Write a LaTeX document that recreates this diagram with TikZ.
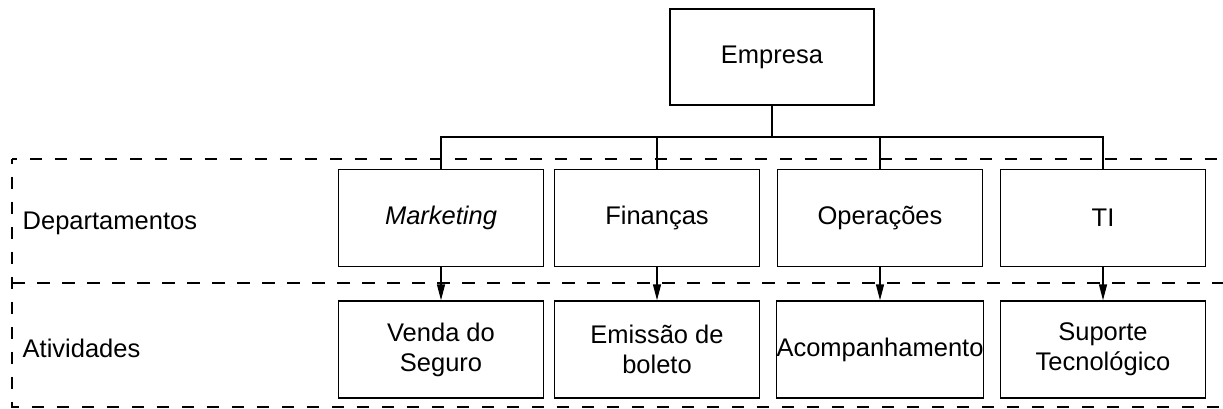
\documentclass[tikz,border=0pt]{standalone}
\usepackage{fontspec}
\setmainfont{Liberation Sans}
\usetikzlibrary{arrows.meta}

\begin{document}
\begin{tikzpicture}[x=1pt, y=-1pt, line width=1.4pt,
    box/.style={draw, minimum width=205pt, minimum height=97pt, inner sep=0pt,
      align=center, font=\fontsize{25.5}{30}\selectfont},
    rotulo/.style={anchor=west, inner sep=0pt, font=\fontsize{25.5}{30}\selectfont},
    faixa/.style={draw, dash pattern=on 12.5pt off 12.5pt},
    seta/.style={-{Triangle[length=16pt,width=8pt]}}]
  \useasboundingbox (0,0) rectangle (1223,409);
  % dashed bands
  \draw[faixa, dash phase=7.5pt] (12,159) -- (1240,159);
  \draw[faixa, dash phase=7.5pt] (12,159) -- (12,407) -- (1240,407);
  \draw[faixa] (12,283) -- (1240,283);
  % Label: row names on the left
  \node[rotulo] (dep) at (22,223) {Departamentos};
  \node[rotulo] (ativ) at (22,348) {Atividades};
  % top box
  \node[box, minimum width=204pt, minimum height=96pt] (empresa) at (772,57) {Empresa};
  \coordinate (barra) at (772,137);
  \draw (empresa) -- (barra);
  % departments
  \foreach \nome/\cx/\txt in {mkt/441/\textit{Marketing}, fin/657/Finanças,
      ope/880/Operações, ti/1103/TI} {
    \node[box] (\nome) at (\cx,218) {\txt};
    \draw (\nome.north) |- (barra);
  }
  % activities
  \foreach \nome/\cx/\txt in {vend/441/{Venda do\\Seguro}, emis/657/{Emissão de\\boleto},
      acomp/880/Acompanhamento, sup/1103/{Suporte\\Tecnológico}} {
    \node[box] (\nome) at (\cx,349.5) {\txt};
  }
  \foreach \a/\b in {mkt/vend, fin/emis, ope/acomp, ti/sup}
    \draw[seta] (\a) -- (\b);
\end{tikzpicture}
\end{document}
